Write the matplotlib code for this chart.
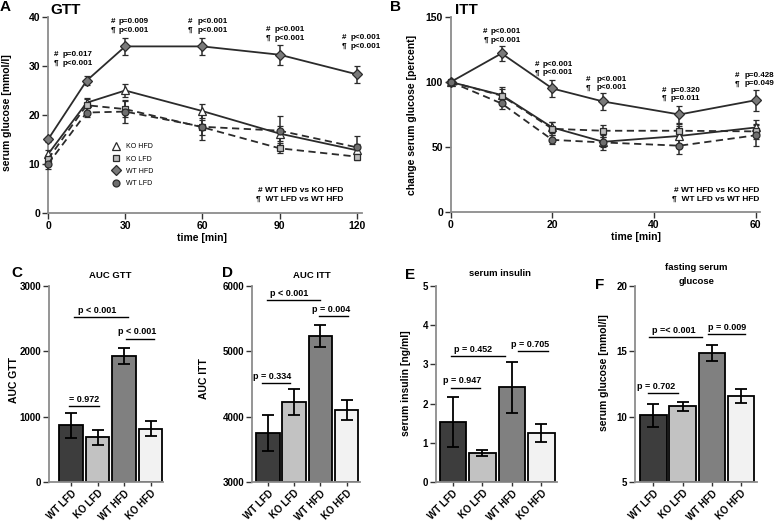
import matplotlib
matplotlib.use("Agg")
import matplotlib.pyplot as plt
import numpy as np
from matplotlib.lines import Line2D

plt.rcParams["font.family"] = ["Liberation Sans", "DejaVu Sans"]
plt.rcParams["font.weight"] = "bold"
plt.rcParams["axes.labelweight"] = "bold"

W, H = 778, 523

# ── Datos: GTT ────────────────────────────────────────────────────────
gtt_time = [0, 15, 30, 60, 90, 120]
gtt_wt_hfd = [15.0, 27.0, 34.0, 34.0, 32.3, 28.3]
gtt_wt_hfd_err = [0.5, 0.9, 1.8, 1.7, 2.0, 1.7]
gtt_ko_hfd = [12.0, 22.5, 25.0, 20.8, 16.2, 12.8]
gtt_ko_hfd_err = [0.8, 1.0, 1.3, 1.5, 1.6, 1.3]
gtt_ko_lfd = [11.0, 22.0, 21.2, 17.5, 13.2, 11.5]
gtt_ko_lfd_err = [0.8, 1.3, 1.6, 1.5, 1.0, 0.6]
gtt_wt_lfd = [10.0, 20.5, 20.7, 17.6, 16.8, 13.4]
gtt_wt_lfd_err = [1.0, 1.0, 2.4, 2.8, 3.0, 2.4]
gtt_p_hash = ["p=0.017", "p=0.009", "p<0.001", "p<0.001", "p<0.001"]
gtt_p_para = ["p<0.001", "p<0.001", "p<0.001", "p<0.001", "p<0.001"]

# ── Datos: ITT ────────────────────────────────────────────────────────
itt_time = [0, 10, 20, 30, 45, 60]
itt_wt_hfd = [100, 122, 95, 85, 75, 86]
itt_wt_hfd_err = [1, 5.5, 6.5, 6.5, 6.5, 8]
itt_ko_hfd = [100, 90, 65, 54, 58.5, 65]
itt_ko_hfd_err = [1, 6, 4.5, 4, 8, 5.5]
itt_ko_lfd = [100, 89.5, 64, 62.5, 62.5, 62]
itt_ko_lfd_err = [1, 5, 5, 4.5, 5.5, 6]
itt_wt_lfd = [100, 83.5, 55.5, 53.5, 51, 59]
itt_wt_lfd_err = [1, 4.5, 3.5, 5.5, 6.5, 8]
itt_p_hash = ["p<0.001", "p<0.001", "p<0.001", "p=0.320", "p=0.428"]
itt_p_para = ["p<0.001", "p<0.001", "p<0.001", "p=0.011", "p=0.049"]

# ── Datos: barras ─────────────────────────────────────────────────────
groups = ["WT LFD", "KO LFD", "WT HFD", "KO HFD"]
auc_gtt = [866, 683, 1926, 815]
auc_gtt_err = [190, 112, 120, 117]
auc_itt = [3749, 4228, 5231, 4100]
auc_itt_err = [275, 196, 168, 150]
insulin = [1.54, 0.74, 2.42, 1.25]
insulin_err = [0.64, 0.07, 0.65, 0.23]
fasting = [10.1, 10.8, 14.85, 11.6]
fasting_err = [0.9, 0.35, 0.6, 0.55]

sig_gtt = ["= 0.972", "p < 0.001", "p < 0.001"]
sig_gtt_y = [1156, 2522, 2196]
sig_itt = ["p = 0.334", "p < 0.001", "p = 0.004"]
sig_itt_y = [4518, 5792, 5547]
sig_ins = ["p = 0.947", "p = 0.452", "p = 0.705"]
sig_ins_y = [2.41, 3.22, 3.33]
sig_fast = ["p = 0.702", "p =< 0.001", "p = 0.009"]
sig_fast_y = [11.83, 16.1, 16.3]

# ── Estilo ────────────────────────────────────────────────────────────
C_LINE = "#2b2b2b"
C_SPINE = "#8c8c8c"
BAR_COLORS = ["#3d3d3d", "#c2c2c2", "#808080", "#f2f2f2"]
ANN_FS = 5.8

fig = plt.figure(figsize=(W / 100, H / 100), dpi=100)
fig.patch.set_facecolor("white")


def add_ax(left, top, right, bottom):
    return fig.add_axes([left / W, 1 - bottom / H, (right - left) / W, (bottom - top) / H])


def style(ax):
    for s in ("top", "right"):
        ax.spines[s].set_visible(False)
    for s in ("left", "bottom"):
        ax.spines[s].set_color(C_SPINE)
        ax.spines[s].set_linewidth(1.3)
    ax.tick_params(direction="out", length=4, width=1.0, color="#333333",
                   labelsize=7.5, pad=1.5)


def ftext(px, py, s, **kw):
    fig.text(px / W, 1 - py / H, s, **kw)


SERIES = [
    # (clave, estilo de línea, marcador, relleno, etiqueta, tamaño)
    ("wt_hfd", "-", "D", "#7a7a7a", "WT HFD", 5.0),
    ("ko_hfd", "-", "^", "white", "KO HFD", 6.0),
    ("ko_lfd", "--", "s", "#bdbdbd", "KO LFD", 5.0),
    ("wt_lfd", "--", "o", "#6e6e6e", "WT LFD", 5.0),
]


def line_panel(ax, t, data, errs):
    for (key, ls, mk, fc, lab, ms) in SERIES:
        ax.errorbar(t, data[key], yerr=errs[key], color=C_LINE, ls=ls, lw=1.3,
                    dashes=(4, 2.5) if ls == "--" else (None, None),
                    marker=mk, ms=ms, mfc=fc, mec=C_LINE, mew=0.9,
                    capsize=2.5, elinewidth=1.1, capthick=1.1, clip_on=False, zorder=3)


def p_annotations(ax, pos, hashes, paras):
    for (sx, px, y1, y2), ph, pp in zip(pos, hashes, paras):
        ax.text(sx, y1, "#", fontsize=ANN_FS, va="center", ha="left", clip_on=False)
        ax.text(sx, y2, "¶", fontsize=ANN_FS, va="center", ha="left", clip_on=False)
        ax.text(px, y1, ph, fontsize=ANN_FS, va="center", ha="left", clip_on=False)
        ax.text(px, y2, pp, fontsize=ANN_FS, va="center", ha="left", clip_on=False)


# ── Panel A: GTT ──────────────────────────────────────────────────────
axA = add_ax(48, 17, 362, 213)
style(axA)
line_panel(axA, gtt_time,
           dict(wt_hfd=gtt_wt_hfd, ko_hfd=gtt_ko_hfd, ko_lfd=gtt_ko_lfd, wt_lfd=gtt_wt_lfd),
           dict(wt_hfd=gtt_wt_hfd_err, ko_hfd=gtt_ko_hfd_err, ko_lfd=gtt_ko_lfd_err,
                wt_lfd=gtt_wt_lfd_err))
axA.set_xlim(0, 122)
axA.set_ylim(0, 40)
axA.set_xticks([0, 30, 60, 90, 120])
axA.set_yticks([0, 10, 20, 30, 40])
axA.set_xlabel("time [min]", fontsize=7.5)
axA.set_ylabel("serum glucose [mmol/l]", fontsize=7.5)
axA.yaxis.set_label_coords(-0.115, 0.51)
axA.xaxis.set_label_coords(0.49, -0.10)

# posiciones de las anotaciones (símbolo x, texto x, y fila 1, y fila 2)
gtt_ann_pos = [(2.3, 5.8, 32.4, 30.6), (24.5, 27.4, 39.0, 37.2), (54.4, 58.1, 39.0, 37.2),
               (84.7, 88.0, 37.5, 35.7), (114.0, 117.4, 35.8, 34.0)]
p_annotations(axA, gtt_ann_pos, gtt_p_hash, gtt_p_para)
axA.text(114.6, 4.6, "# WT HFD vs KO HFD", fontsize=6.0, ha="right", va="center")
axA.text(114.6, 2.75, "¶  WT LFD vs WT HFD", fontsize=6.0, ha="right", va="center")

handles = []
for key in ("ko_hfd", "ko_lfd", "wt_hfd", "wt_lfd"):
    s = [x for x in SERIES if x[0] == key][0]
    handles.append(Line2D([], [], ls="none", marker=s[2], ms=s[5], mfc=s[3],
                          mec=C_LINE, mew=0.9, label=s[4]))
axA.legend(handles=handles, loc="upper left", bbox_to_anchor=(0.205, 0.355),
           frameon=False, borderpad=0, borderaxespad=0, handlelength=1.0,
           handletextpad=0.9, labelspacing=0.75, prop={"size": 5, "weight": "normal"})

ftext(0, 7, "A", fontsize=11, va="center", ha="left")
ftext(50.7, 9.5, "GTT", fontsize=11, va="center", ha="left")

# ── Panel B: ITT ──────────────────────────────────────────────────────
axB = add_ax(450.7, 17, 760, 212)
style(axB)
line_panel(axB, itt_time,
           dict(wt_hfd=itt_wt_hfd, ko_hfd=itt_ko_hfd, ko_lfd=itt_ko_lfd, wt_lfd=itt_wt_lfd),
           dict(wt_hfd=itt_wt_hfd_err, ko_hfd=itt_ko_hfd_err, ko_lfd=itt_ko_lfd_err,
                wt_lfd=itt_wt_lfd_err))
axB.set_xlim(0, 60.85)
axB.set_ylim(0, 150)
axB.set_xticks([0, 20, 40, 60])
axB.set_yticks([0, 50, 100, 150])
axB.set_xlabel("time [min]", fontsize=7.5)
axB.set_ylabel("change serum glucose [percent]", fontsize=7.5)
axB.yaxis.set_label_coords(-0.109, 0.5)
axB.xaxis.set_label_coords(0.6, -0.10)

itt_ann_pos = [(6.4, 7.9, 138.6, 132.2), (16.5, 18.1, 113.4, 107.0), (26.5, 28.6, 101.9, 95.5),
               (41.5, 43.3, 93.7, 87.3), (55.9, 57.8, 104.9, 98.5)]
p_annotations(axB, itt_ann_pos, itt_p_hash, itt_p_para)
axB.text(60.7, 16.4, "# WT HFD vs KO HFD", fontsize=6.0, ha="right", va="center")
axB.text(60.7, 9.8, "¶  WT LFD vs WT HFD", fontsize=6.0, ha="right", va="center")

ftext(390, 7, "B", fontsize=11, va="center", ha="left")
ftext(455, 9.5, "ITT", fontsize=11, va="center", ha="left")


# ── Paneles de barras ─────────────────────────────────────────────────
def bar_panel(ax, vals, errs, ybase, sig_lines, sig_labels, sig_y):
    x = np.arange(len(groups))
    ax.bar(x, np.array(vals) - ybase, bottom=ybase, width=0.9, color=BAR_COLORS,
           edgecolor="black", linewidth=1.3, zorder=2)
    ax.errorbar(x, vals, yerr=errs, fmt="none", ecolor="black", elinewidth=1.3,
                capsize=4.3, capthick=1.3, zorder=3)
    ax.set_xticks(x)
    ax.set_xticklabels(groups, rotation=45, ha="right", rotation_mode="anchor", fontsize=7)
    ax.tick_params(axis="x", length=3)
    ax.tick_params(axis="y", labelsize=7)
    for (x0, x1, xt), lab, yy in zip(sig_lines, sig_labels, sig_y):
        ax.plot([x0, x1], [yy, yy], color="black", lw=1.0, clip_on=False)
        ax.annotate(lab, (xt, yy), xytext=(0, 1.5), textcoords="offset points",
                    ha="center", va="bottom", fontsize=6.5, annotation_clip=False)


axC = add_ax(49, 286, 163, 482)
style(axC)
bar_panel(axC, auc_gtt, auc_gtt_err, 0,
          [(-0.08, 1.06, 0.51), (0.11, 2.15, 0.98), (2.08, 3.13, 2.49)],
          sig_gtt, sig_gtt_y)
axC.set_xlim(-0.83, 3.47)
axC.set_ylim(0, 3000)
axC.set_yticks([0, 1000, 2000, 3000])
axC.set_ylabel("AUC GTT", fontsize=7.5)
axC.yaxis.set_label_coords(-0.26, 0.52)
ftext(11.7, 273, "C", fontsize=11, va="center", ha="left")
ftext(110, 275, "AUC GTT", fontsize=6.8, va="center", ha="center")

axD = add_ax(251.7, 286, 360, 482)
style(axD)
bar_panel(axD, auc_itt, auc_itt_err, 3000,
          [(-0.23, 0.84, 0.17), (-0.04, 1.98, 0.80), (1.95, 3.05, 2.40)],
          sig_itt, sig_itt_y)
axD.set_xlim(-0.62, 3.51)
axD.set_ylim(3000, 6000)
axD.set_yticks([3000, 4000, 5000, 6000])
axD.set_ylabel("AUC ITT", fontsize=7.5)
axD.yaxis.set_label_coords(-0.394, 0.53)
ftext(221.7, 273, "D", fontsize=11, va="center", ha="left")
ftext(311.7, 275, "AUC ITT", fontsize=6.8, va="center", ha="center")

axE = add_ax(435.7, 286, 556.7, 482)
style(axE)
bar_panel(axE, insulin, insulin_err, 0,
          [(-0.07, 0.92, 0.30), (-0.07, 1.77, 0.67), (2.22, 3.21, 2.63)],
          sig_ins, sig_ins_y)
axE.set_xlim(-0.58, 3.52)
axE.set_ylim(0, 5)
axE.set_yticks([0, 1, 2, 3, 4, 5])
axE.set_ylabel("serum insulin [ng/ml]", fontsize=7.5)
axE.yaxis.set_label_coords(-0.204, 0.505)
ftext(405, 275, "E", fontsize=11, va="center", ha="left")
ftext(500, 274, "serum insulin", fontsize=6.8, va="center", ha="center")

axF = add_ax(635, 286, 757, 482)
style(axF)
bar_panel(axF, fasting, fasting_err, 5,
          [(-0.18, 0.85, 0.09), (-0.15, 1.67, 0.69), (1.87, 3.14, 2.54)],
          sig_fast, sig_fast_y)
axF.set_xlim(-0.63, 3.55)
axF.set_ylim(5, 20)
axF.set_yticks([5, 10, 15, 20])
axF.set_ylabel("serum glucose [mmol/l]", fontsize=7.5)
axF.yaxis.set_label_coords(-0.213, 0.556)
ftext(595, 285, "F", fontsize=11, va="center", ha="left")
ftext(696.7, 267, "fasting serum", fontsize=6.8, va="center", ha="center")
ftext(696.7, 281, "glucose", fontsize=6.8, va="center", ha="center")

fig.savefig("out.png", dpi=100, facecolor="white")
